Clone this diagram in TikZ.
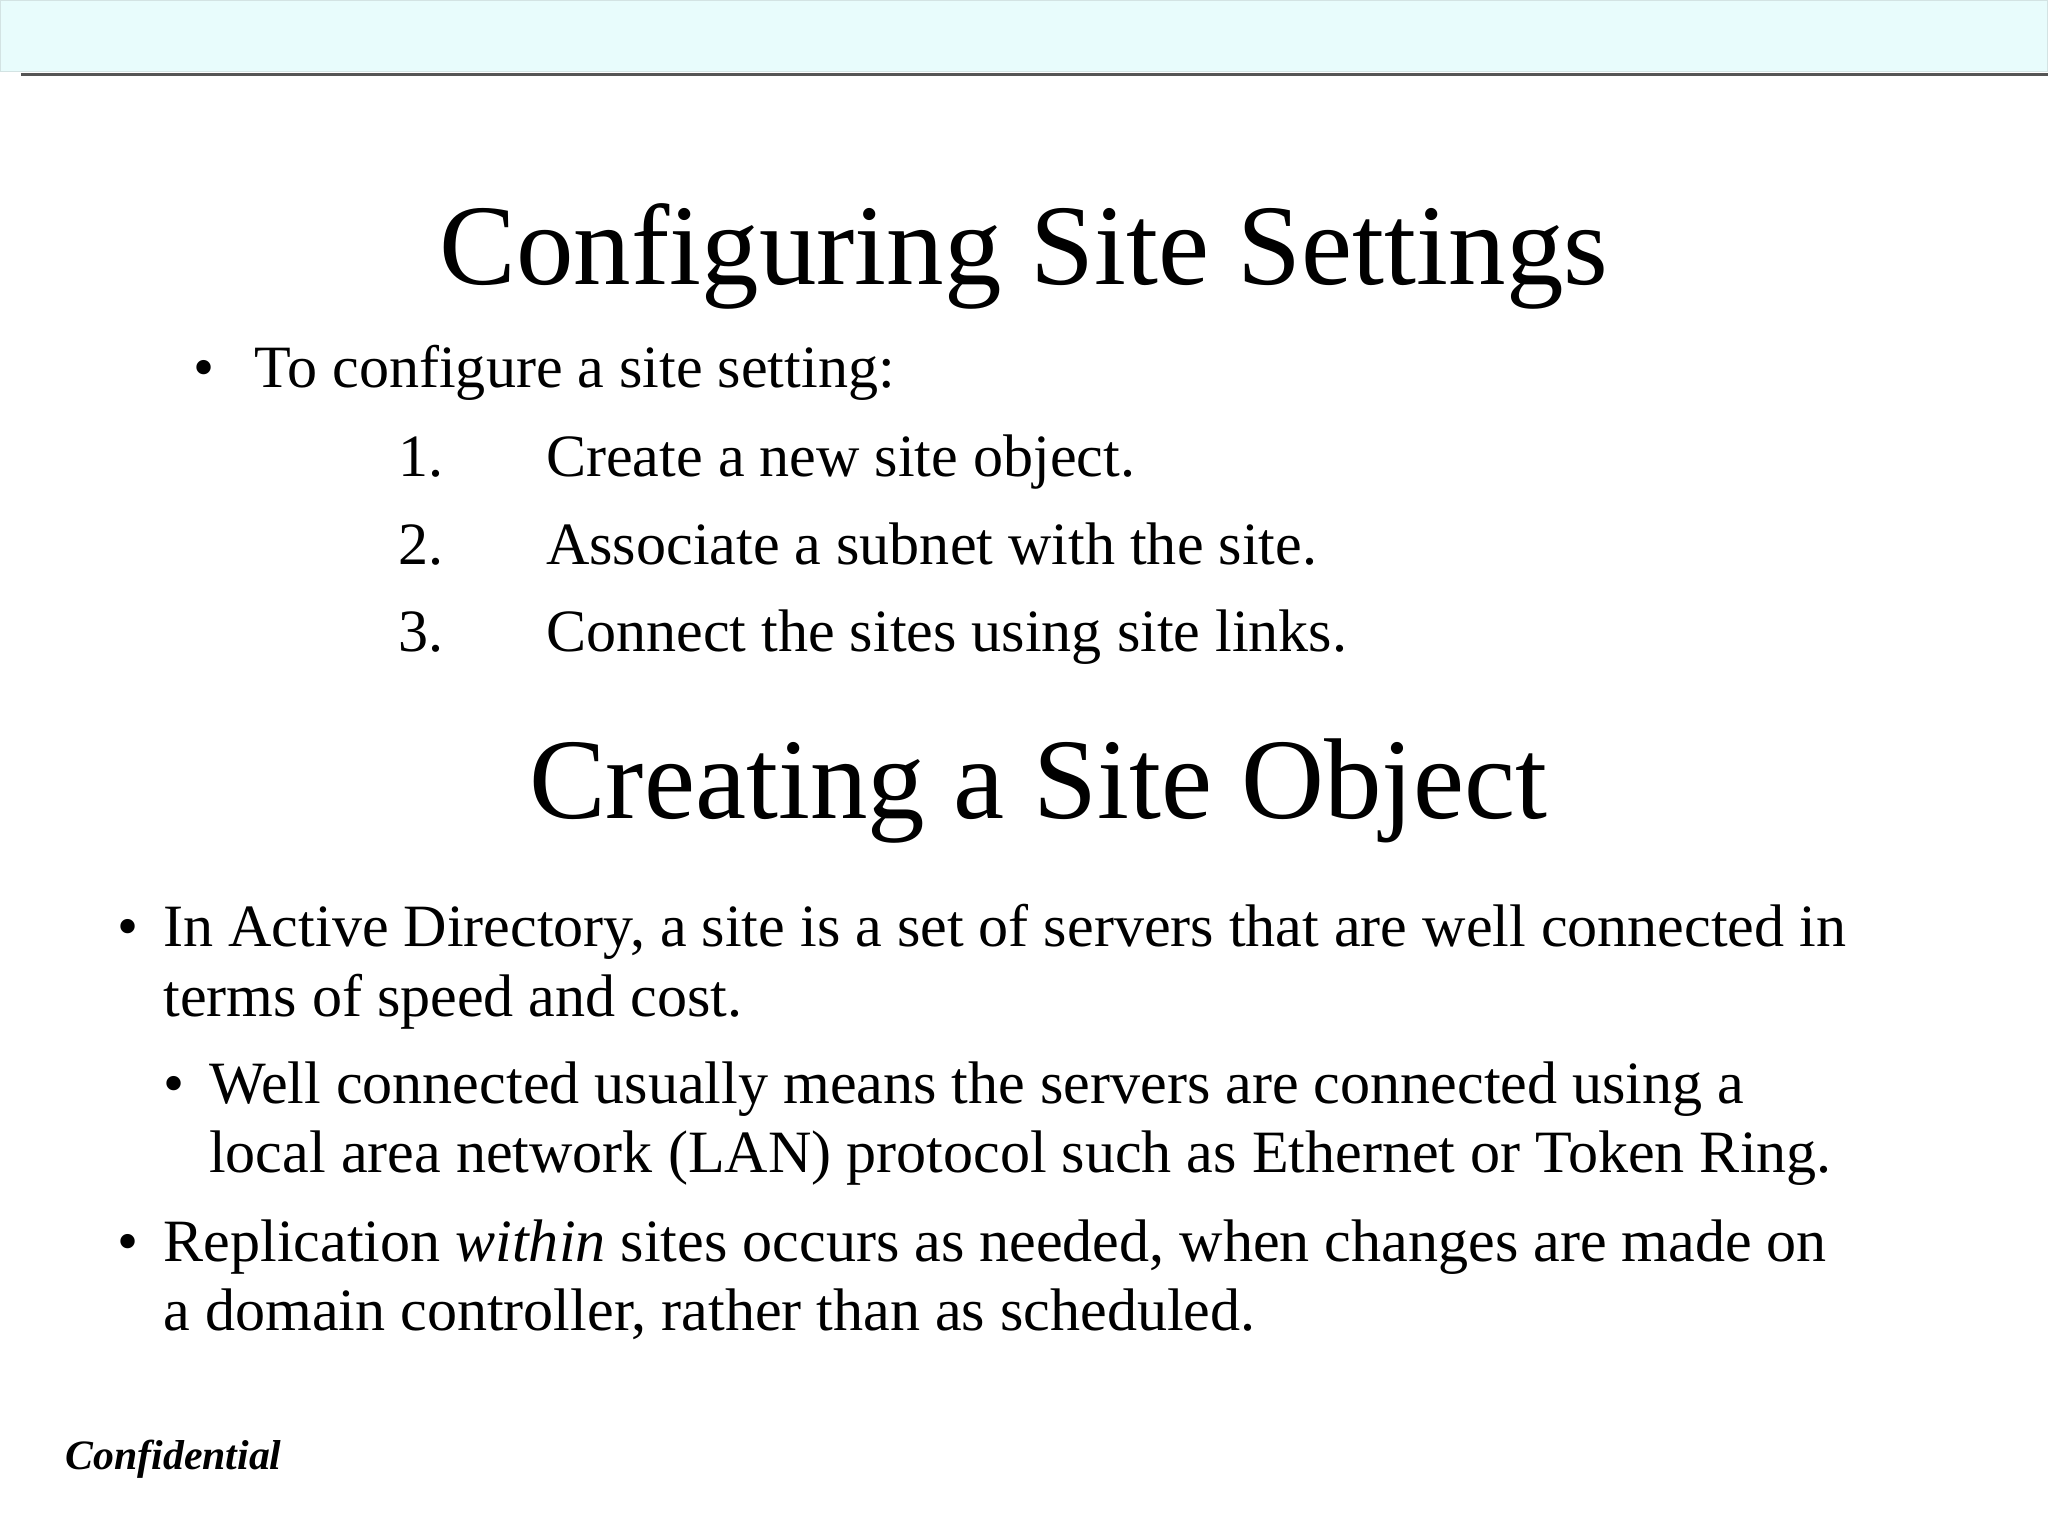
\documentclass[tikz,border=0pt]{standalone}
\usepackage{fontspec}
\setmainfont{Liberation Serif}
\definecolor{barfill}{HTML}{E8FCFC}
\definecolor{barline}{HTML}{555555}
\begin{document}
\begin{tikzpicture}[x=1pt,y=-1pt,
  txt/.style={anchor=base west,inner sep=0pt,font=\fontsize{46}{52}\selectfont},
  ttl/.style={anchor=base,inner sep=0pt,font=\fontsize{88}{96}\selectfont}]
\useasboundingbox[fill=white] (0,0) rectangle (1568,1175);
\fill[barfill] (0,0) rectangle (1568,55);
\draw[barfill!80!gray,line width=1pt] (0.5,0.5) rectangle (1567.5,55);
\draw[barline,line width=2pt] (16,57) -- (1568,57);
\node[ttl] (t1) at (784,218) {Configuring Site Settings};
\node[txt] (b0) at (148,297) {•};
\node[txt] (l0) at (195,297) {To configure a site setting:};
\node[txt] (n1) at (305,365) {1.};
\node[txt] (s1) at (418,365) {Create a new site object.};
\node[txt] (n2) at (305,432) {2.};
\node[txt] (s2) at (418,432) {Associate a subnet with the site.};
\node[txt] (n3) at (305,499) {3.};
\node[txt] (s3) at (418,499) {Connect the sites using site links.};
\node[ttl] (t2) at (795,627) {Creating a Site Object};
\node[txt] (b1) at (90,725) {•};
\node[txt] (p1) at (125,725) {In Active Directory, a site is a set of servers that are well connected in};
\node[txt] (p1b) at (125,778) {terms of speed and cost.};
\node[txt] (b2) at (125,845) {•};
\node[txt] (p2) at (160,845) {Well connected usually means the servers are connected using a};
\node[txt] (p2b) at (160,898) {local area network (LAN) protocol such as Ethernet or Token Ring.};
\node[txt] (b3) at (90,966) {•};
\node[txt] (p3) at (125,966) {Replication \textit{within} sites occurs as needed, when changes are made on};
\node[txt] (p3b) at (125,1019) {a domain controller, rather than as scheduled.};
\node[anchor=base west,inner sep=0pt,font=\fontsize{32}{36}\selectfont\bfseries\itshape] (conf) at (50,1125) {Confidential};
\end{tikzpicture}
\end{document}
